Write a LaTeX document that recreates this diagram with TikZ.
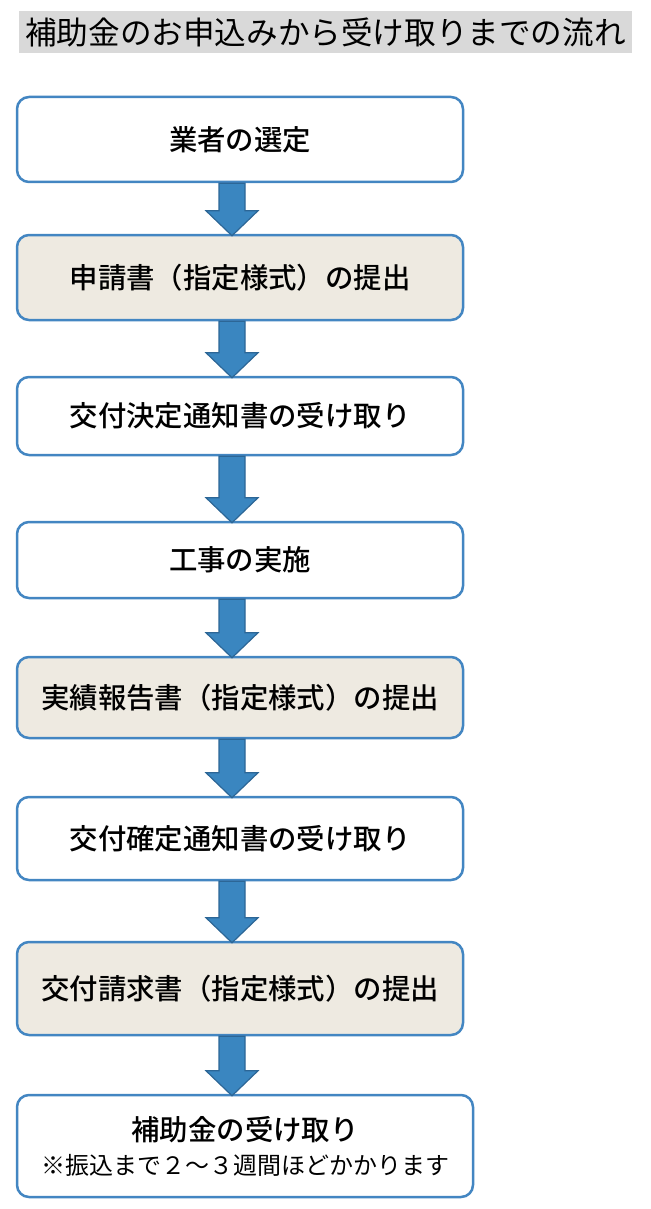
\documentclass[tikz,border=0pt]{standalone}
\usepackage{fontspec}
\setmainfont{Noto Sans CJK JP}
\newfontfamily\jpmed{Noto Sans CJK JP Medium}
\usepackage{tikz}
\usetikzlibrary{calc}

\definecolor{boxblue}{HTML}{4386C2}
\definecolor{arrowblue}{HTML}{3A86C0}
\definecolor{arrowedge}{HTML}{2C6696}
\definecolor{beige}{HTML}{EEEAE1}
\definecolor{titlegray}{HTML}{D9D9D9}

\begin{document}
\begin{tikzpicture}[x=1pt, y=-1pt,
    stepbox/.style={draw=boxblue, line width=2.5pt, rounded corners=12pt, fill=white,
        minimum width=446pt, inner sep=0pt, font=\jpmed\fontsize{28.4}{33}\selectfont},
    formbox/.style={stepbox, fill=beige},
    flowarrow/.style={fill=arrowblue, draw=arrowedge, line width=1.2pt, line join=miter}]
        \useasboundingbox (0,0) rectangle (650,1209);

        \node[fill=titlegray, minimum width=613pt, minimum height=42pt, inner sep=0pt,
            font=\fontsize{31.6}{36}\selectfont] (T) at (325.5,32) {補助金のお申込みから受け取りまでの流れ};

        \node[stepbox, minimum height=85pt] (S1) at (240,139.5) {業者の選定};
        \node[formbox, minimum height=85pt] (S2) at (240,277.5) {申請書（指定様式）の提出};
        \node[stepbox, minimum height=78pt] (S3) at (240,416) {交付決定通知書の受け取り};
        \node[stepbox, minimum height=76pt] (S4) at (240,560) {工事の実施};
        \node[formbox, minimum height=81pt] (S5) at (240,697.5) {実績報告書（指定様式）の提出};
        \node[stepbox, minimum height=83pt] (S6) at (240,838.5) {交付確定通知書の受け取り};
        \node[formbox, minimum height=93pt] (S7) at (240,988.5) {交付請求書（指定様式）の提出};
        \node[stepbox, minimum height=102pt, minimum width=456pt, align=center] (S8) at (245,1146)
            {補助金の受け取り\\[1pt]{\rmfamily\fontsize{24}{28}\selectfont ※振込まで２～３週間ほどかかります}};

        \coordinate (axis) at (232,0);
        \foreach \a/\b in {S1/S2, S2/S3, S3/S4, S4/S5, S5/S6, S6/S7, S7/S8}
            \filldraw[flowarrow] ($(axis |- \a.south)+(-13,0)$) -- ($(axis |- \b.north)+(-13,-23)$)
                -- ($(axis |- \b.north)+(-26,-23)$) -- ($(axis |- \b.north)+(0,2)$)
                -- ($(axis |- \b.north)+(26,-23)$) -- ($(axis |- \b.north)+(13,-23)$)
                -- ($(axis |- \a.south)+(13,0)$) -- cycle;
    \end{tikzpicture}
\end{document}
